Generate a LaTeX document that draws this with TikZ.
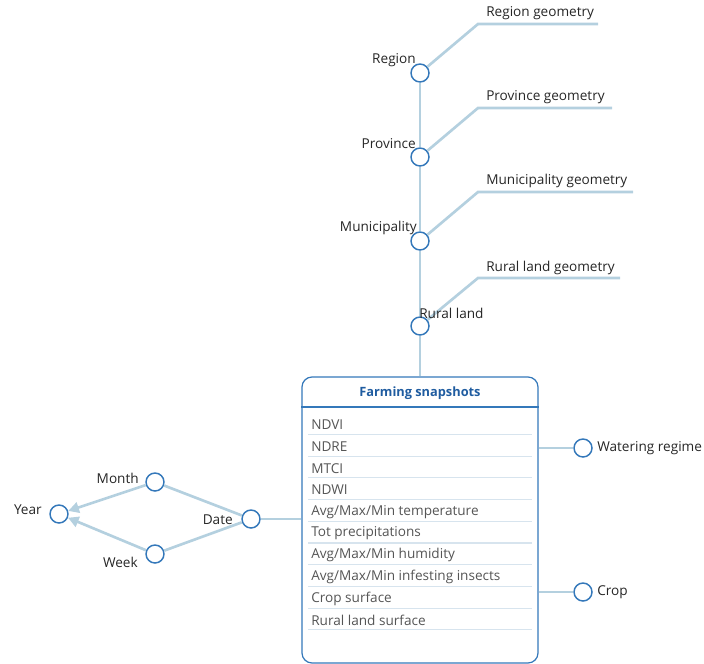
\documentclass[tikz,border=0pt]{standalone}
\usepackage{fontspec}
\setmainfont{Open Sans}
\usetikzlibrary{arrows.meta,calc}
\definecolor{linkblue}{RGB}{180,208,223}
\definecolor{ringblue}{RGB}{52,120,186}
\definecolor{titleblue}{RGB}{31,92,160}
\definecolor{itemgray}{RGB}{85,85,85}
\definecolor{rulegray}{RGB}{215,228,238}
\tikzset{
  attr/.style={circle,draw=ringblue,line width=1.1pt,fill=white,minimum size=13.5pt,inner sep=0pt},
  link/.style={draw=linkblue,line width=2pt},
  tolink/.style={link,-{Triangle[length=8pt,width=8pt]}},
  lbl/.style={font=\fontsize{10.2}{12}\selectfont,text=black!85,inner sep=0pt},
  itemtxt/.style={font=\fontsize{10.2}{12}\selectfont,text=itemgray,anchor=west,inner sep=0pt},
  snapbox/.style={draw=ringblue,line width=0.9pt,rounded corners=7.5pt,minimum width=177pt,minimum height=214.5pt,inner sep=0pt}
}
\begin{document}
\begin{tikzpicture}[x=0.75pt,y=-0.75pt]
\useasboundingbox (0,0) rectangle (704,664);
% fact box
\node[snapbox] (snap) at (420,520) {};
\node[font=\bfseries\fontsize{9.6}{11}\selectfont,text=titleblue] (title) at (420,393) {Farming snapshots};
\draw[ringblue,line width=0.8pt] (snap.west |- 0,407) -- (snap.east |- 0,407); %title rule
\foreach \t [count=\i] in {NDVI,NDRE,MTCI,NDWI,Avg/Max/Min temperature,Tot precipitations,Avg/Max/Min humidity,Avg/Max/Min infesting insects,Crop surface,Rural land surface}{
  \node[itemtxt] (item\i) at (311,{425+(\i-1)*21.7}) {\t};
  \draw[rulegray,line width=0.8pt] (308,{434.5+(\i-1)*21.7}) -- (532,{434.5+(\i-1)*21.7});
}
% geography hierarchy
\node[attr] (region) at (420,73) {};
\node[attr] (province) at (420,157) {};
\node[attr] (munic) at (420,241) {};
\node[attr] (rural) at (420,326) {};
\draw[link] (snap.north) -- (rural);
\draw[link] (rural) -- (munic);
\draw[link] (munic) -- (province);
\draw[link] (province) -- (region);
% geometries
\coordinate (rgc) at (478,24); \coordinate (rge) at (598,24);
\coordinate (pgc) at (478,108); \coordinate (pge) at (612,108);
\coordinate (mgc) at (478,192); \coordinate (mge) at (633,192);
\coordinate (lgc) at (478,278); \coordinate (lge) at (620,278);
\draw[link] (region) -- (rgc) -- (rge);
\draw[link] (province) -- (pgc) -- (pge);
\draw[link] (munic) -- (mgc) -- (mge);
\draw[link] (rural) -- (lgc) -- (lge);
\node[lbl,anchor=west] (rgl) at (486,13) {Region geometry};
\node[lbl,anchor=west] (pgl) at (486,97) {Province geometry};
\node[lbl,anchor=west] (mgl) at (486,181) {Municipality geometry};
\node[lbl,anchor=west] (lgl) at (486,268) {Rural land geometry};
\node[lbl,anchor=east] (regionl) at (416,60) {Region};
\node[lbl,anchor=east] (provincel) at (416,144) {Province};
\node[lbl,anchor=east] (municl) at (417,228) {Municipality};
\node[lbl,anchor=west] (rurall) at (419,313) {Rural land};
% right side
\node[attr] (water) at (583,448) {};
\node[attr] (crop) at (583,592) {};
\draw[link] (water -| snap.east) -- (water);
\draw[link] (crop -| snap.east) -- (crop);
\node[lbl,anchor=west] (waterl) at (597,448) {Watering regime};
\node[lbl,anchor=west] (cropl) at (597,592) {Crop};
% time hierarchy
\node[attr] (date) at (251,519) {};
\node[attr] (month) at (155,482) {};
\node[attr] (week) at (155,554) {};
\node[attr] (year) at (59,514) {};
\draw[link] (date) -- (date -| snap.west);
\draw[link] (date) -- (month);
\draw[link] (date) -- (week);
\draw[tolink] (month) -- (year);
\draw[tolink] (week) -- (year);
\node[lbl,anchor=east] (datel) at (233,520) {Date};
\node[lbl,anchor=east] (monthl) at (139,478) {Month};
\node[lbl,anchor=east] (weekl) at (138,562) {Week};
\node[lbl,anchor=east] (yearl) at (42,510) {Year};
\end{tikzpicture}
\end{document}
